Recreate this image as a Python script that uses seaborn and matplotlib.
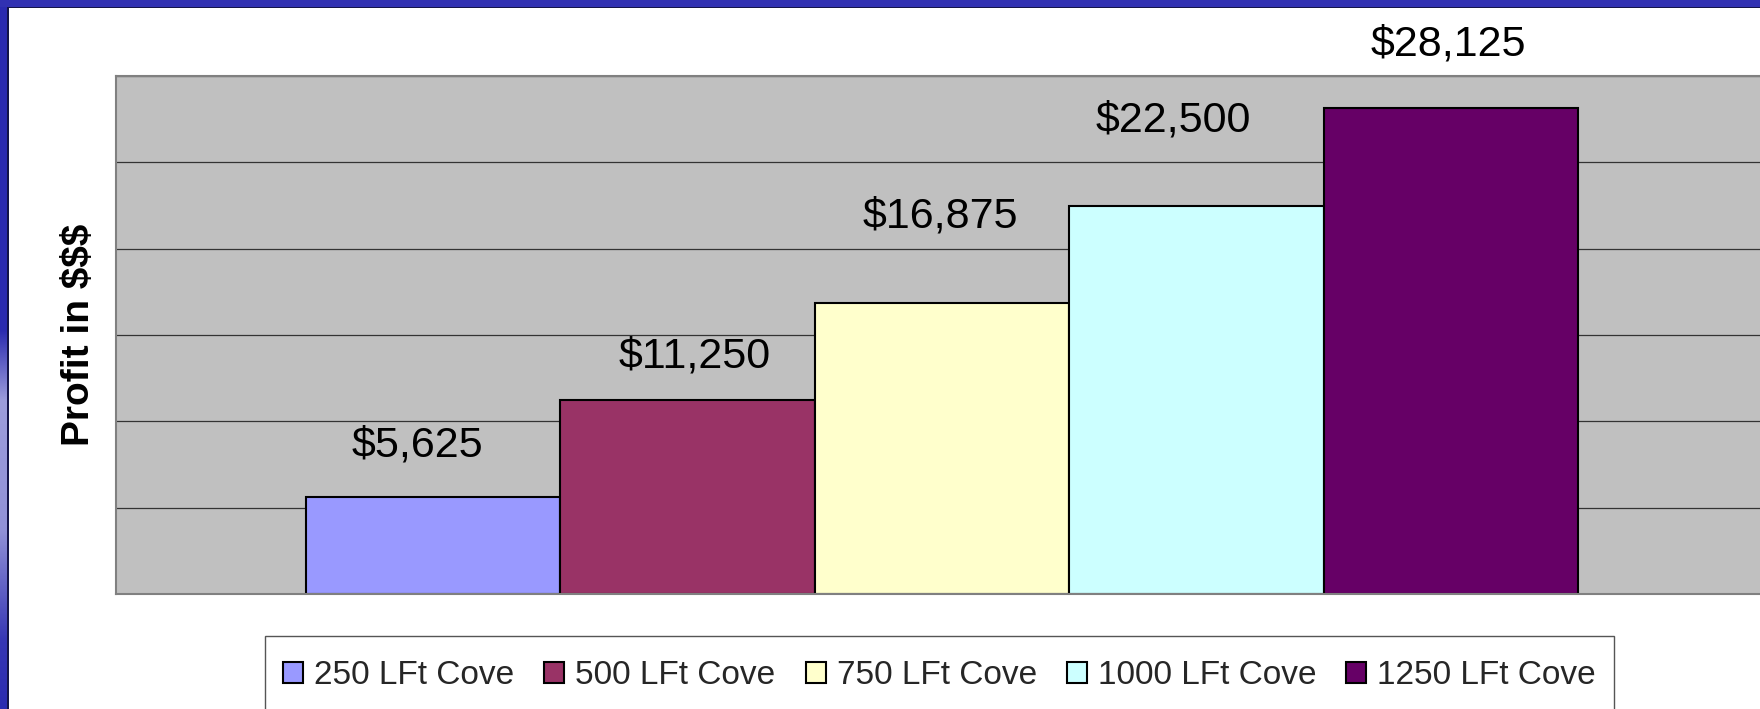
import numpy as np
import pandas as pd
import matplotlib
matplotlib.use("Agg")
import matplotlib.pyplot as plt
import matplotlib.patches as mpatches
import matplotlib.colors as mcolors
import seaborn as sns

# chart data
series = ["250 LFt Cove", "500 LFt Cove", "750 LFt Cove", "1000 LFt Cove", "1250 LFt Cove"]
profit = [5625, 11250, 16875, 22500, 28125]
value_labels = ["$5,625", "$11,250", "$16,875", "$22,500", "$28,125"]
bar_colors = ["#9999FF", "#993366", "#FFFFCC", "#CCFFFF", "#660066"]
y_ticks = [0, 5000, 10000, 15000, 20000, 25000, 30000]

# label nudges (pixels) to mimic the original label placement
label_dx = [-16, 7, -2, -23, -2]
label_dy = [51, 43, 86, 85, 64]

df = pd.DataFrame({"group": [""] * len(series), "series": series, "profit": profit})

sns.set_theme(style="white")
plt.rcParams["font.family"] = ["Liberation Sans", "DejaVu Sans"]

W, H = 1760, 709
fig = plt.figure(figsize=(W / 100, H / 100), dpi=100)
fig.patch.set_facecolor("white")

# plot area (extends a bit past the right edge, as in the original slide)
ax = fig.add_axes([116 / W, (H - 594) / H, 1652 / W, 518 / H])
ax.set_facecolor("#C0C0C0")

sns.barplot(data=df, x="group", y="profit", hue="series", hue_order=series,
            palette=bar_colors, saturation=1, width=0.77, errorbar=None,
            edgecolor="black", linewidth=1.5, legend=False, ax=ax)

ax.set_xlim(-0.5, 0.5)
ax.set_ylim(y_ticks[0], y_ticks[-1])
ax.set_yticks(y_ticks)
ax.yaxis.grid(True, color="#333333", linewidth=0.9)
ax.xaxis.grid(False)
ax.set_axisbelow(True)
ax.tick_params(left=False, labelleft=False, bottom=False, labelbottom=False)
ax.set_xlabel("")
ax.set_ylabel("Profit in $$$", fontsize=28, fontweight="bold", color="black")
ax.yaxis.set_label_coords(-0.0115, 0.5)
for sp in ax.spines.values():
    sp.set_visible(True)
    sp.set_color("#808080")
    sp.set_linewidth(1.5)

# value labels above bars
for cont, txt, dx, dy in zip(ax.containers, value_labels, label_dx, label_dy):
    bar = cont.patches[0]
    ax.annotate(txt, (bar.get_x() + bar.get_width() / 2, bar.get_height()),
                xytext=(dx, dy), textcoords="offset pixels",
                ha="center", va="center", fontsize=31, color="black",
                annotation_clip=False)

# legend (frame drawn by hand so it runs off the bottom edge like the original)
handles = [mpatches.Patch(facecolor=c, edgecolor="black", linewidth=1.5) for c in bar_colors]
leg = ax.legend(handles, series, loc="upper left", bbox_to_anchor=(265 / W, 1 - 642 / H),
                bbox_transform=fig.transFigure, ncol=5, fontsize=24, frameon=False,
                borderpad=0.55, handlelength=0.6, handleheight=0.6,
                handletextpad=0.33, columnspacing=0.9, borderaxespad=0)

fig.canvas.draw()
bb = leg.get_window_extent()
x0 = bb.x0 / W
x1 = bb.x1 / W
top = (H - 636) / H
fig.patches.append(mpatches.Rectangle((x0, -0.05), x1 - x0, top + 0.05,
                                      transform=fig.transFigure, facecolor="white",
                                      edgecolor="#555555", linewidth=1.0, zorder=-1))

# slide frame: blue strip on top and a gradient strip on the left
fig.patches.append(mpatches.Rectangle((0, 1 - 7 / H), 1, 7 / H, transform=fig.transFigure,
                                      facecolor="#3131B2", edgecolor="none", zorder=5))
fig.patches.append(mpatches.Rectangle((7 / W, 1 - 8 / H), 1, 1.5 / H, transform=fig.transFigure,
                                      facecolor="#14144A", edgecolor="none", zorder=5))

dark = np.array(mcolors.to_rgb("#2B2BB0"))
light = np.array(mcolors.to_rgb("#9C9CDC"))
rows = np.arange(H)
mix = np.interp(rows, [0, 330, 400, 530, 640, H], [0, 0, 1, 0.9, 0.1, 0])
grad = dark[None, :] * (1 - mix[:, None]) + light[None, :] * mix[:, None]
ax_strip = fig.add_axes([0, 0, 7 / W, 1])
ax_strip.imshow(grad[:, None, :], aspect="auto", interpolation="bilinear")
ax_strip.set_axis_off()
fig.patches.append(mpatches.Rectangle((7 / W, 0), 1.5 / W, 1 - 7 / H, transform=fig.transFigure,
                                      facecolor="#14144A", edgecolor="none", zorder=5))

fig.savefig("out.png", dpi=100)
